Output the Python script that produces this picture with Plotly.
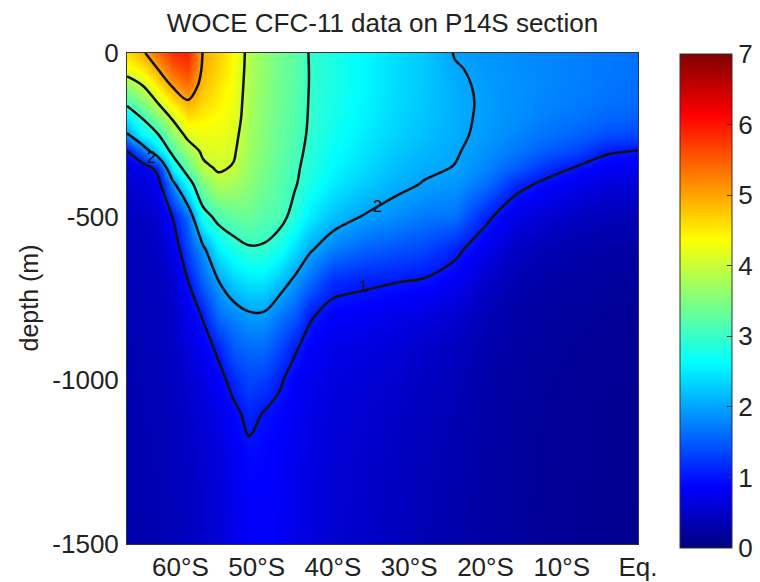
import numpy as np
import plotly.graph_objects as go

# Station longitudes (degrees, negative = south) and depth levels (m, negative down)
lons = [-67, -65, -63, -61, -59, -57, -55, -53, -51, -49, -47, -45, -43, -40,
        -36, -32, -28, -24, -20, -16, -12, -8, -4, 0]
depths = [0, -50, -100, -150, -200, -250, -300, -350, -400, -500, -600, -700,
          -800, -900, -1000, -1100, -1200, -1300, -1400, -1500]

# CFC-11 profiles (pmol/kg), one list per station longitude, top to bottom
cfc_profiles = [
    [4.6, 4.3, 3.6, 3.15, 2.5, 1.95, 0.98, 0.7, 0.55, 0.45, 0.4, 0.38, 0.36, 0.35, 0.34, 0.33, 0.32, 0.32, 0.31, 0.3],
    [4.9, 4.5, 3.98, 3.5, 3.0, 2.6, 1.6, 0.75, 0.6, 0.48, 0.42, 0.4, 0.38, 0.37, 0.36, 0.35, 0.34, 0.33, 0.33, 0.32],
    [5.4, 4.98, 4.5, 4.02, 3.5, 2.95, 2.4, 1.15, 0.8, 0.55, 0.47, 0.43, 0.41, 0.4, 0.39, 0.38, 0.37, 0.36, 0.35, 0.34],
    [5.8, 5.5, 5.05, 4.55, 4.05, 3.6, 3.15, 2.6, 1.85, 1.02, 0.7, 0.55, 0.5, 0.47, 0.45, 0.43, 0.42, 0.41, 0.4, 0.4],
    [5.9, 5.7, 5.35, 4.95, 4.55, 4.15, 3.7, 3.3, 2.75, 1.62, 1.35, 0.98, 0.75, 0.62, 0.55, 0.5, 0.48, 0.46, 0.45, 0.44],
    [4.95, 4.9, 4.8, 4.65, 4.45, 4.25, 4.1, 3.9, 3.5, 2.8, 1.9, 1.55, 1.05, 0.8, 0.68, 0.6, 0.56, 0.53, 0.52, 0.51],
    [4.7, 4.65, 4.55, 4.45, 4.35, 4.25, 4.15, 4.06, 3.85, 3.15, 2.55, 1.98, 1.65, 1.1, 0.85, 0.73, 0.66, 0.63, 0.6, 0.6],
    [4.4, 4.35, 4.3, 4.25, 4.2, 4.12, 4.05, 3.97, 3.75, 3.3, 2.8, 2.3, 1.8, 1.5, 1.15, 0.9, 0.8, 0.76, 0.73, 0.72],
    [3.85, 3.84, 3.82, 3.8, 3.78, 3.74, 3.7, 3.64, 3.58, 3.35, 2.95, 2.45, 1.95, 1.6, 1.35, 1.12, 0.95, 0.88, 0.85, 0.83],
    [3.6, 3.6, 3.58, 3.56, 3.54, 3.52, 3.5, 3.45, 3.4, 3.2, 2.95, 2.45, 1.95, 1.6, 1.3, 0.98, 0.9, 0.87, 0.85, 0.84],
    [3.4, 3.4, 3.38, 3.37, 3.35, 3.32, 3.3, 3.25, 3.2, 3.15, 2.75, 2.2, 1.7, 1.35, 1.05, 0.9, 0.85, 0.83, 0.82, 0.81],
    [3.25, 3.25, 3.24, 3.22, 3.2, 3.17, 3.13, 3.08, 3.04, 2.85, 2.4, 1.9, 1.5, 1.05, 0.85, 0.78, 0.75, 0.74, 0.73, 0.72],
    [2.97, 2.98, 2.98, 2.97, 2.96, 2.94, 2.9, 2.85, 2.78, 2.5, 2.05, 1.6, 1.05, 0.85, 0.75, 0.7, 0.68, 0.66, 0.65, 0.64],
    [2.8, 2.8, 2.8, 2.78, 2.76, 2.72, 2.66, 2.6, 2.5, 2.2, 1.75, 1.15, 0.85, 0.72, 0.66, 0.62, 0.6, 0.58, 0.57, 0.56],
    [2.6, 2.6, 2.6, 2.58, 2.55, 2.5, 2.45, 2.38, 2.28, 1.98, 1.55, 1.07, 0.8, 0.67, 0.6, 0.56, 0.53, 0.52, 0.51, 0.5],
    [2.4, 2.4, 2.4, 2.38, 2.36, 2.32, 2.26, 2.18, 2.1, 1.85, 1.45, 1.01, 0.72, 0.6, 0.53, 0.49, 0.46, 0.45, 0.44, 0.43],
    [2.25, 2.25, 2.25, 2.24, 2.22, 2.18, 2.12, 2.06, 1.98, 1.7, 1.35, 0.95, 0.65, 0.52, 0.46, 0.42, 0.4, 0.38, 0.37, 0.36],
    [1.98, 2.03, 2.06, 2.07, 2.07, 2.06, 2.03, 1.99, 1.92, 1.65, 1.1, 0.8, 0.55, 0.43, 0.38, 0.35, 0.33, 0.32, 0.31, 0.3],
    [1.9, 1.93, 1.95, 1.96, 1.95, 1.93, 1.88, 1.8, 1.65, 1.1, 0.75, 0.5, 0.38, 0.32, 0.29, 0.27, 0.26, 0.25, 0.24, 0.24],
    [1.85, 1.86, 1.87, 1.87, 1.85, 1.8, 1.7, 1.5, 1.15, 0.7, 0.45, 0.33, 0.27, 0.24, 0.22, 0.21, 0.2, 0.2, 0.19, 0.19],
    [1.8, 1.8, 1.8, 1.78, 1.74, 1.65, 1.5, 1.2, 0.9, 0.55, 0.36, 0.27, 0.22, 0.2, 0.18, 0.17, 0.17, 0.16, 0.16, 0.16],
    [1.75, 1.75, 1.74, 1.72, 1.66, 1.55, 1.35, 0.97, 0.75, 0.45, 0.3, 0.23, 0.19, 0.17, 0.16, 0.15, 0.15, 0.14, 0.14, 0.14],
    [1.7, 1.7, 1.68, 1.65, 1.58, 1.4, 1.05, 0.8, 0.62, 0.38, 0.26, 0.2, 0.17, 0.15, 0.14, 0.13, 0.13, 0.13, 0.12, 0.12],
    [1.65, 1.65, 1.63, 1.6, 1.52, 1.35, 0.98, 0.78, 0.6, 0.36, 0.25, 0.19, 0.16, 0.14, 0.13, 0.12, 0.12, 0.12, 0.11, 0.11],
]

x_tickvals = [-60, -50, -40, -30, -20, -10, 0]
x_ticktext = ["60°S", "50°S", "40°S", "30°S", "20°S", "10°S", "Eq."]
y_tickvals = [0, -500, -1000, -1500]
y_ticktext = ["0", "-500", "-1000", "-1500"]
cbar_ticks = [0, 1, 2, 3, 4, 5, 6, 7]

# contour label texts and their (lon, depth) positions
contour_labels = [("2", -34.2, -470), ("1", -36.0, -712), ("2", -63.8, -318)]

z = np.array(cfc_profiles).T  # rows = depth, cols = longitude

jet = [[0.0, "rgb(0,0,128)"], [0.125, "rgb(0,0,255)"], [0.375, "rgb(0,255,255)"],
       [0.625, "rgb(255,255,0)"], [0.875, "rgb(255,0,0)"], [1.0, "rgb(128,0,0)"]]

FONT = "Liberation Sans, Arial, Helvetica, sans-serif"
W, H = 760, 582
L, R, T, B = 127, 122, 53, 38
pw, ph = W - L - R, H - T - B

fig = go.Figure()
fig.add_trace(go.Heatmap(
    x=lons, y=depths, z=z, zmin=0, zmax=7, colorscale=jet, zsmooth="best",
    colorbar=dict(
        thickness=52, thicknessmode="pixels",
        x=(680 - L) / pw, xanchor="left", xpad=0,
        y=1 - (54 - T) / ph, yanchor="top", ypad=0,
        len=(548 - 54) / ph, lenmode="fraction",
        tickvals=cbar_ticks, ticks="inside", ticklen=5, tickcolor="#333",
        outlinewidth=1, outlinecolor="#333",
        tickfont=dict(family=FONT, size=26, color="#222"),
    ),
    hoverinfo="skip",
))
fig.add_trace(go.Contour(
    x=lons, y=depths, z=z,
    contours=dict(start=1, end=5, size=1, coloring="none"),
    line=dict(color="#111", width=2.5, smoothing=1.0),
    showscale=False, hoverinfo="skip",
))

for txt, lx, ly in contour_labels:
    fig.add_annotation(x=lx, y=ly, text=txt, showarrow=False,
                       font=dict(family=FONT, size=16, color="#111"))

fig.add_annotation(text="depth (m)", textangle=-90, showarrow=False,
                   xref="paper", yref="paper", x=(28 - L) / pw, y=0.5,
                   xanchor="center", yanchor="middle",
                   font=dict(family=FONT, size=25, color="#222"))

fig.update_layout(
    width=W, height=H,
    margin=dict(l=L, r=R, t=T, b=B, autoexpand=False),
    paper_bgcolor="white", plot_bgcolor="white",
    title=dict(text="WOCE CFC-11 data on P14S section", x=0.5, xref="paper",
               y=1 - 23 / H, yref="container", xanchor="center", yanchor="middle",
               font=dict(family=FONT, size=26, color="#222")),
    xaxis=dict(range=[-67, 0], tickvals=x_tickvals, ticktext=x_ticktext,
               showgrid=False, zeroline=False, ticks="", automargin=False,
               showline=True, linecolor="#333", linewidth=1, mirror=True,
               tickfont=dict(family=FONT, size=26, color="#222")),
    yaxis=dict(range=[-1500, 0], tickvals=y_tickvals, ticktext=y_ticktext,
               showgrid=False, zeroline=False, ticks="", automargin=False,
               showline=True, linecolor="#333", linewidth=1, mirror=True,
               ticklabelstandoff=2,
               tickfont=dict(family=FONT, size=26, color="#222")),
)

fig.write_html("out.html", config={"displayModeBar": False},
               post_script="document.body.style.margin='0px';document.body.style.overflow='hidden';")
